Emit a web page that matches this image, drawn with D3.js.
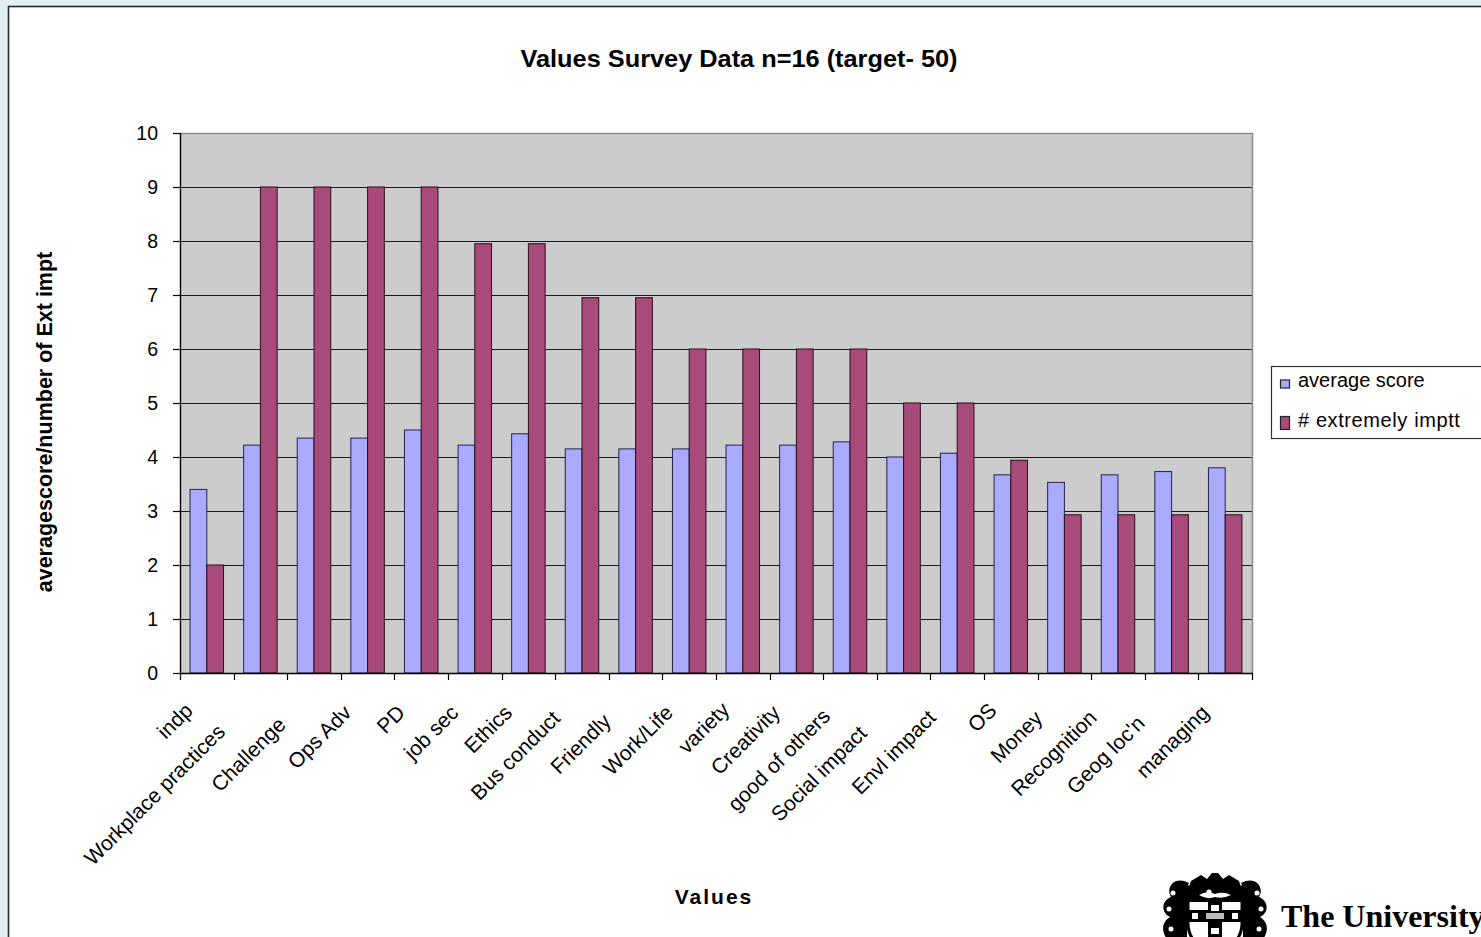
<!DOCTYPE html>
<html>
<head>
<meta charset="utf-8">
<script src="https://cdn.jsdelivr.net/npm/d3@7"></script>
<style>
  html, body { margin: 0; padding: 0; background: #deeef3; overflow: hidden; }
  svg { display: block; }
  text { fill: #000; }
</style>
</head>
<body>
<svg id="chart" width="1481" height="937"></svg>
<script>
// ---- data ----
const categories = ["indp", "Workplace practices", "Challenge", "Ops Adv", "PD", "job sec",
  "Ethics", "Bus conduct", "Friendly", "Work/Life", "variety", "Creativity", "good of others",
  "Social impact", "Envl impact", "OS", "Money", "Recognition", "Geog loc'n", "managing"];
const averageScore = [3.4, 4.22, 4.35, 4.35, 4.5, 4.22, 4.43, 4.15, 4.15, 4.15,
  4.22, 4.22, 4.28, 4.0, 4.07, 3.67, 3.53, 3.67, 3.73, 3.8];
const extremelyImportant = [2, 9, 9, 9, 9, 7.95, 7.95, 6.95, 6.95, 6,
  6, 6, 6, 5, 5, 3.94, 2.93, 2.93, 2.93, 2.93];
const seriesNames = ["average score", "# extremely imptt"];
const yTicks = [0, 1, 2, 3, 4, 5, 6, 7, 8, 9, 10];

// ---- layout / style ----
const SANS = "'Liberation Sans', Arial, sans-serif";
const SERIF = "'Liberation Serif', 'Times New Roman', serif";
const seriesColors = ["#aaaaff", "#a84a7a"];
const seriesStroke = ["#23234a", "#2a0d1c"];
// how far each category label slides down along its own baseline (px)
const labelSlide = [-3, 27, 17, 0, 0, 0, 0, 8, 12, 0, -4, 0, 5, 29, 7, -3, 8, 7, 15, 0];

const W = 1481, H = 937;
const plot = { left: 180, right: 1252, top: 133, bottom: 673 };

const svg = d3.select("#chart").style("font-family", SANS);

// page and chart frame
svg.append("rect").attr("width", W).attr("height", H).attr("fill", "#deeef3");
svg.append("rect")
  .attr("x", 8.5).attr("y", 6.5).attr("width", W + 20).attr("height", H + 20)
  .attr("fill", "#ffffff").attr("stroke", "#2b2b2b").attr("stroke-width", 1.6);

// scales
const x0 = d3.scaleBand().domain(categories)
  .range([plot.left, plot.right]).paddingInner(0.375).paddingOuter(0.1875);
const x1 = d3.scaleBand().domain(seriesNames).range([0, x0.bandwidth()]);
const y = d3.scaleLinear().domain([0, 10]).range([plot.bottom, plot.top]);

// plot background
svg.append("rect")
  .attr("x", plot.left).attr("y", plot.top)
  .attr("width", plot.right - plot.left).attr("height", plot.bottom - plot.top)
  .attr("fill", "#cccccc");

// gridlines
svg.append("g").selectAll("line")
  .data(yTicks.filter(t => t > 0 && t < 10))
  .join("line")
  .attr("x1", plot.left).attr("x2", plot.right)
  .attr("y1", d => Math.round(y(d)) + 0.5).attr("y2", d => Math.round(y(d)) + 0.5)
  .attr("stroke", "#1a1a1a").attr("stroke-width", 1.1);

// plot border (top and right, grey)
svg.append("path")
  .attr("d", `M${plot.left},${plot.top + 0.5}H${plot.right + 0.5}V${plot.bottom}`)
  .attr("fill", "none").attr("stroke", "#8c8c8c").attr("stroke-width", 1.6);

// bars
const rows = categories.map((c, i) => ({
  cat: c,
  vals: [
    { s: seriesNames[0], v: averageScore[i], k: 0 },
    { s: seriesNames[1], v: extremelyImportant[i], k: 1 }
  ]
}));

svg.append("g").selectAll("g")
  .data(rows)
  .join("g")
  .attr("transform", d => `translate(${x0(d.cat)},0)`)
  .selectAll("rect")
  .data(d => d.vals)
  .join("rect")
  .attr("x", d => x1(d.s))
  .attr("y", d => y(d.v))
  .attr("width", x1.bandwidth())
  .attr("height", d => y(0) - y(d.v))
  .attr("fill", d => seriesColors[d.k])
  .attr("stroke", d => seriesStroke[d.k])
  .attr("stroke-width", 1);

// y axis
const yAxis = svg.append("g")
  .attr("transform", `translate(${plot.left},0)`)
  .call(d3.axisLeft(y).tickValues(yTicks).tickSize(7).tickPadding(15).tickFormat(d3.format("d")));
yAxis.select(".domain").attr("stroke", "#000").attr("stroke-width", 1.4)
  .attr("d", `M0.5,${plot.top}V${plot.bottom}`);
yAxis.selectAll(".tick line").attr("stroke", "#000").attr("stroke-width", 1.2);
yAxis.selectAll(".tick text")
  .style("font-family", SANS).style("font-size", "19.5px")
  .attr("fill", "#000");

// x axis: baseline plus boundary ticks
const xAxis = svg.append("g");
xAxis.append("line")
  .attr("x1", plot.left).attr("x2", plot.right + 1)
  .attr("y1", plot.bottom + 0.5).attr("y2", plot.bottom + 0.5)
  .attr("stroke", "#000").attr("stroke-width", 1.4);
const step = x0.step();
const boundaries = d3.range(categories.length + 1).map(i => plot.left + i * step);
xAxis.selectAll("line.tick")
  .data(boundaries)
  .join("line").attr("class", "tick")
  .attr("x1", d => Math.round(d) + 0.5).attr("x2", d => Math.round(d) + 0.5)
  .attr("y1", plot.bottom).attr("y2", plot.bottom + 7)
  .attr("stroke", "#000").attr("stroke-width", 1.2);

// category labels, rotated 45 degrees, anchored at their end
const ux = Math.SQRT1_2;
xAxis.selectAll("text.cat")
  .data(categories)
  .join("text").attr("class", "cat")
  .attr("transform", (d, i) => {
    const cx = x0(d) + x0.bandwidth() / 2 - 15 - labelSlide[i] * ux;
    const cy = plot.bottom + 41 + labelSlide[i] * ux;
    return `translate(${cx},${cy}) rotate(-45)`;
  })
  .attr("text-anchor", "end")
  .style("font-size", "21px")
  .text(d => d);

// title
svg.append("text")
  .attr("x", 739).attr("y", 67)
  .attr("text-anchor", "middle")
  .style("font-size", "23.5px").style("font-weight", "bold")
  .attr("textLength", 437).attr("lengthAdjust", "spacingAndGlyphs")
  .text("Values Survey Data n=16 (target- 50)");

// axis titles
svg.append("text")
  .attr("transform", "translate(52,422) rotate(-90)")
  .attr("text-anchor", "middle")
  .style("font-size", "21.5px").style("font-weight", "bold")
  .text("averagescore/number of Ext impt");

svg.append("text")
  .attr("x", 714).attr("y", 904)
  .attr("text-anchor", "middle")
  .style("font-size", "21px").style("font-weight", "bold")
  .style("letter-spacing", "2px")
  .text("Values");

// legend
const legend = svg.append("g");
legend.append("rect")
  .attr("x", 1271.5).attr("y", 366.5).attr("width", 240).attr("height", 72)
  .attr("fill", "#ffffff").attr("stroke", "#333").attr("stroke-width", 1.2);
const keySize = [[9, 8], [9, 13]];
const keyY = [384, 423];
seriesNames.forEach((name, k) => {
  legend.append("rect")
    .attr("x", 1280.5).attr("y", keyY[k] - keySize[k][1] / 2)
    .attr("width", keySize[k][0]).attr("height", keySize[k][1])
    .attr("fill", seriesColors[k]).attr("stroke", "#222").attr("stroke-width", 1.2);
  legend.append("text")
    .attr("x", 1298).attr("y", k === 0 ? 387 : 427)
    .style("font-size", "20px")
    .style("letter-spacing", k === 1 ? "0.6px" : "0px")
    .text(name);
});

// university crest and wordmark
const crest = svg.append("g").attr("transform", "translate(1215,905)");
// mantling, left and right
const mantle = "M-26,-22 C-40,-30 -50,-18 -44,-8 C-54,-4 -54,8 -45,12 C-55,18 -53,30 -46,36 L-28,40 L-28,-18 Z";
crest.append("path").attr("d", mantle).attr("fill", "#000");
crest.append("path").attr("d", mantle).attr("fill", "#000").attr("transform", "scale(-1,1)");
[[-42, -12], [-46, 4], [-44, 24], [42, -12], [46, 4], [44, 24]].forEach(p =>
  crest.append("circle").attr("cx", p[0]).attr("cy", p[1]).attr("r", 2.5).attr("fill", "#fff"));
// crest on the helm
crest.append("path")
  .attr("d", "M-24,-24 L-14,-30 L-8,-26 L-3,-32 L3,-32 L8,-26 L14,-30 L24,-24 L26,-18 L-26,-18 Z")
  .attr("fill", "#000");
// shield
crest.append("path")
  .attr("d", "M-27,-18 H27 V18 Q27,40 0,48 Q-27,40 -27,18 Z")
  .attr("fill", "#fff").attr("stroke", "#000").attr("stroke-width", 3);
crest.append("rect").attr("x", -27).attr("y", -18).attr("width", 54).attr("height", 15).attr("fill", "#000");
crest.append("path")
  .attr("d", "M-16,-10 Q-8,-15 0,-11 Q8,-14 16,-10 Q8,-6 0,-8 Q-8,-5 -16,-10 Z")
  .attr("fill", "#fff");
crest.append("circle").attr("cx", -6).attr("cy", -13).attr("r", 2.6).attr("fill", "#fff");
// cross with stars
crest.append("rect").attr("x", -7).attr("y", -3).attr("width", 14).attr("height", 52).attr("fill", "#000");
crest.append("rect").attr("x", -27).attr("y", 5).attr("width", 54).attr("height", 12).attr("fill", "#000");
[[-4, 0, 8, 6], [-4, 23, 8, 6], [-23, 8, 6, 6], [17, 8, 6, 6]].forEach(r =>
  crest.append("rect").attr("x", r[0]).attr("y", r[1]).attr("width", r[2]).attr("height", r[3]).attr("fill", "#fff"));
crest.append("rect").attr("x", -9).attr("y", 8).attr("width", 18).attr("height", 6).attr("fill", "#bbb");

svg.append("text")
  .attr("x", 1281).attr("y", 927)
  .style("font-family", SERIF)
  .style("font-weight", "bold").style("font-size", "32px")
  .text("The University");
</script>
</body>
</html>
